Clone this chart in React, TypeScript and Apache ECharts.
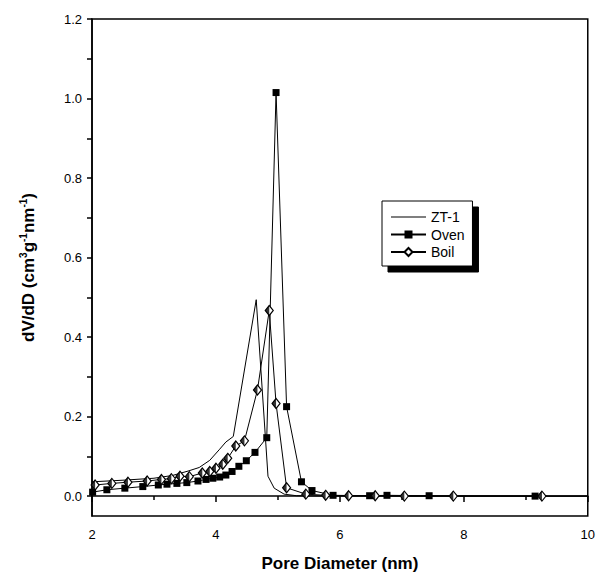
import React, { useEffect, useRef } from "react";
import * as echarts from "echarts";

const zt1X = [2.0, 2.5, 3.0, 3.3, 3.55, 3.73, 3.9, 4.06, 4.16, 4.28, 4.65, 4.84, 4.94, 5.1, 5.3, 6.0, 8.0, 10.0];
const zt1Y = [0.036, 0.04, 0.045, 0.052, 0.063, 0.072, 0.09, 0.118, 0.136, 0.15, 0.494, 0.05, 0.02, 0.005, 0.001, 0, 0, 0];

const ovenX = [2.01, 2.24, 2.53, 2.82, 3.07, 3.21, 3.37, 3.53, 3.71, 3.84, 3.95, 4.06, 4.16, 4.26, 4.37, 4.49, 4.63, 4.82, 4.97, 5.14, 5.38, 5.55, 5.89, 6.48, 6.76, 7.44, 9.15];
const ovenY = [0.01, 0.016, 0.02, 0.024, 0.028, 0.03, 0.032, 0.034, 0.038, 0.042, 0.045, 0.048, 0.053, 0.062, 0.075, 0.089, 0.11, 0.147, 1.015, 0.225, 0.036, 0.014, 0.002, 0.001, 0.002, 0.001, 0];

const boilX = [2.05, 2.32, 2.58, 2.89, 3.12, 3.28, 3.42, 3.57, 3.78, 3.9, 4.0, 4.11, 4.19, 4.32, 4.46, 4.67, 4.86, 4.97, 5.14, 5.45, 5.77, 6.14, 6.57, 7.04, 7.83, 9.26, 10.0];
const boilY = [0.028, 0.032, 0.035, 0.038, 0.042, 0.044, 0.05, 0.049, 0.058, 0.062, 0.07, 0.08, 0.095, 0.126, 0.139, 0.267, 0.467, 0.233, 0.021, 0.005, 0.002, 0.001, 0.001, 0, 0, 0, 0];
const boilMarked = 26; // last point (10.0) is the line end without marker

const xTicks = [2, 4, 6, 8, 10];
const yLabels = [0, 0.2, 0.4, 0.6, 0.8, 1.0, 1.2];
const yTicks = [0, 0.1, 0.2, 0.3, 0.4, 0.5, 0.6, 0.7, 0.8, 0.9, 1.0, 1.1, 1.2];

const FONT = "Liberation Sans, Arial, sans-serif";

export default function App() {
  const ref = useRef<HTMLDivElement>(null);
  useEffect(() => {
    if (!ref.current) return;
    const chart = echarts.init(ref.current, null, { renderer: "svg" });
    const zip = (xs: number[], ys: number[]) => xs.map((x, i) => [x, ys[i]]);
    const boilPts = zip(boilX, boilY);
    chart.setOption({
      animation: false,
      backgroundColor: "#fff",
      grid: {
        left: 92,
        right: 8,
        top: 19,
        bottom: 60,
        show: true,
        borderColor: "#000",
        borderWidth: 1.5,
        backgroundColor: "transparent",
      },
      legend: {
        orient: "vertical",
        left: 382,
        top: 201,
        itemWidth: 35,
        itemHeight: 10,
        itemGap: 3.5,
        padding: [9, 8, 7, 8],
        backgroundColor: "#fff",
        borderColor: "#000",
        borderWidth: 1,
        borderRadius: 0,
        shadowColor: "#000",
        shadowBlur: 0,
        shadowOffsetX: 6,
        shadowOffsetY: 6,
        data: [
          { name: "ZT-1", icon: "path://M0,0 L35,0 L35,1 L0,1 Z" },
          "Oven",
          "Boil",
        ],
        textStyle: { fontFamily: FONT, fontSize: 14, color: "#000" },
      },
      xAxis: {
        type: "value",
        min: 2,
        max: 10,
        interval: 2,
        name: "Pore Diameter (nm)",
        nameLocation: "middle",
        nameGap: 39,
        nameTextStyle: { fontFamily: FONT, fontSize: 17, fontWeight: "bold", color: "#000" },
        axisLine: { lineStyle: { color: "#000", width: 1.5 } },
        axisTick: { show: true, inside: false, length: 6, lineStyle: { color: "#000", width: 1.5 } },
        minorTick: { show: true, splitNumber: 2, length: 4, lineStyle: { color: "#000", width: 1.5 } },
        axisLabel: { fontFamily: FONT, fontSize: 13, color: "#000", margin: 12, customValues: xTicks },
        splitLine: { show: false },
      },
      yAxis: {
        type: "value",
        min: -0.05,
        max: 1.2,
        name: "dV/dD (cm{s|3}g{s|-1}nm{s|-1})",
        nameLocation: "middle",
        nameGap: 54,
        nameRotate: 90,
        nameTextStyle: {
          fontFamily: FONT,
          fontSize: 17,
          fontWeight: "bold",
          color: "#000",
          rich: {
            s: { fontFamily: FONT, fontSize: 10, fontWeight: "bold", color: "#000", padding: [0, 0, 10, 0] },
          },
        },
        axisLine: { lineStyle: { color: "#000", width: 1.5 } },
        axisTick: { show: true, inside: false, length: 5, lineStyle: { color: "#000", width: 1.5 }, customValues: yTicks },
        axisLabel: {
          fontFamily: FONT,
          fontSize: 13,
          color: "#000",
          margin: 10,
          customValues: yLabels,
          formatter: (v: number) => v.toFixed(1),
        },
        splitLine: { show: false },
      },
      series: [
        {
          name: "ZT-1",
          type: "line",
          data: zip(zt1X, zt1Y),
          showSymbol: false,
          symbol: "none",
          lineStyle: { color: "#000", width: 1 },
          itemStyle: { color: "#000" },
          z: 2,
        },
        {
          name: "Oven",
          type: "line",
          data: zip(ovenX, ovenY),
          symbol: "rect",
          symbolSize: 7,
          lineStyle: { color: "#000", width: 1 },
          itemStyle: { color: "#000" },
          z: 3,
        },
        {
          name: "Boil",
          type: "line",
          data: boilPts.map((p, i) =>
            i < boilMarked ? p : { value: p, symbol: "none" }
          ),
          symbol: "diamond",
          symbolSize: [8, 10],
          lineStyle: { color: "#000", width: 1 },
          itemStyle: { color: "#fff", borderColor: "#000", borderWidth: 1.2 },
          z: 4,
        },
        {
          name: "BoilHalf",
          type: "scatter",
          data: boilPts.slice(0, boilMarked),
          symbol: "path://M5,0 L0,10 L5,20 Z",
          symbolSize: [4, 10],
          symbolOffset: [-2, 0],
          itemStyle: { color: "#000" },
          silent: true,
          z: 5,
        },
      ],
    });
    return () => chart.dispose();
  }, []);
  return (
    <div
      ref={ref}
      style={{ width: 598, height: 577, position: "fixed", left: 0, top: 0 }}
    />
  );
}
